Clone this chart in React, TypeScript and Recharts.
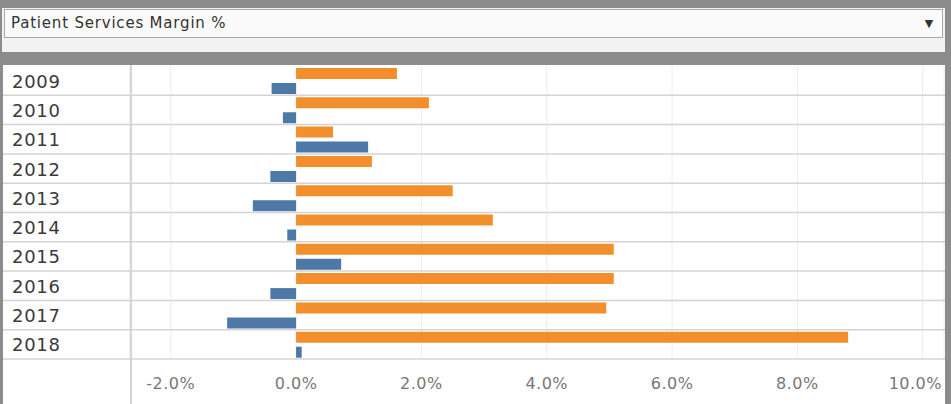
import React from 'react'
import { BarChart, Bar, XAxis, YAxis, CartesianGrid } from 'recharts'

const years = ['2009', '2010', '2011', '2012', '2013', '2014', '2015', '2016', '2017', '2018']
const orangeValues = [1.61, 2.12, 0.59, 1.21, 2.5, 3.14, 5.07, 5.07, 4.95, 8.81]
const blueValues = [-0.39, -0.21, 1.15, -0.41, -0.69, -0.14, 0.72, -0.41, -1.1, 0.09]
const xTicks = [-2, 0, 2, 4, 6, 8, 10]

const data = years.map((year, i) => ({
    year,
    orange: orangeValues[i],
    blue: blueValues[i],
}))

const CW = 942
const CH = 339
const MT = 1
const XH = 45
const YW = 127
const plotBottom = CH - XH
const band = (CH - MT - XH) / years.length

const FONT = '"DejaVu Sans", sans-serif'

const YearTick = ({ y, payload }: any) => (
    <g>
        <line x1={0} x2={CW} y1={y + band / 2} y2={y + band / 2} stroke="#d4d4d4" strokeWidth={1.5} />
        <text x={9} y={y + 0.5} textAnchor="start" dominantBaseline="central" fill="#3a3a3a" fontSize={18} fontFamily={FONT} letterSpacing={0.7}>
            {payload.value}
        </text>
    </g>
)

const PctTick = ({ x, payload }: any) => {
    const nearEdge = x + 30 > CW
    return (
        <text
            x={nearEdge ? CW - 3 : x}
            y={plotBottom + 24}
            textAnchor={nearEdge ? 'end' : 'middle'}
            dominantBaseline="central"
            fill="#777"
            fontSize={16}
            fontFamily={FONT}
            letterSpacing={0.5}
        >
            {payload.value.toFixed(1)}%
        </text>
    )
}

export default function App() {
    return (
        <div style={{ position: 'absolute', left: 0, top: 0, width: 951, height: 404, background: '#8c8c8c', overflow: 'hidden' }}>
            <div style={{ position: 'absolute', left: 2, top: 8, width: 943, height: 44, background: '#f2f2f2' }} />
            <div
                style={{
                    position: 'absolute', left: 4, top: 9, width: 937, height: 27,
                    background: '#fafafa', border: '1px solid #a8a8a8',
                    fontFamily: FONT, fontSize: 15, color: '#333', lineHeight: '27px', letterSpacing: 0.8,
                }}
            >
                <span style={{ marginLeft: 6 }}>Patient Services Margin %</span>
                <span style={{ position: 'absolute', right: 8, top: 0, fontSize: 11 }}>▼</span>
            </div>
            <div style={{ position: 'absolute', left: 3, top: 65, width: CW, height: CH, background: '#fff' }}>
                <BarChart
                    width={CW}
                    height={CH}
                    data={data}
                    layout="vertical"
                    margin={{ top: MT, right: 1, bottom: 0, left: 0 }}
                    barSize={11}
                    barGap={4}
                >
                    <CartesianGrid horizontal={false} stroke="#ebebeb" />
                    <XAxis
                        type="number"
                        domain={[-2.65, 10.34]}
                        ticks={xTicks}
                        allowDataOverflow
                        axisLine={false}
                        tickLine={false}
                        height={XH}
                        tick={<PctTick />}
                    />
                    <YAxis
                        type="category"
                        dataKey="year"
                        width={YW}
                        axisLine={false}
                        tickLine={false}
                        tick={<YearTick />}
                    />
                    <Bar dataKey="orange" fill="#f28e2b" isAnimationActive={false} />
                    <Bar dataKey="blue" fill="#4e79a7" isAnimationActive={false} />
                </BarChart>
                <div style={{ position: 'absolute', left: YW, top: 0, width: 1.5, height: CH, background: '#d4d4d4' }} />
            </div>
        </div>
    )
}
